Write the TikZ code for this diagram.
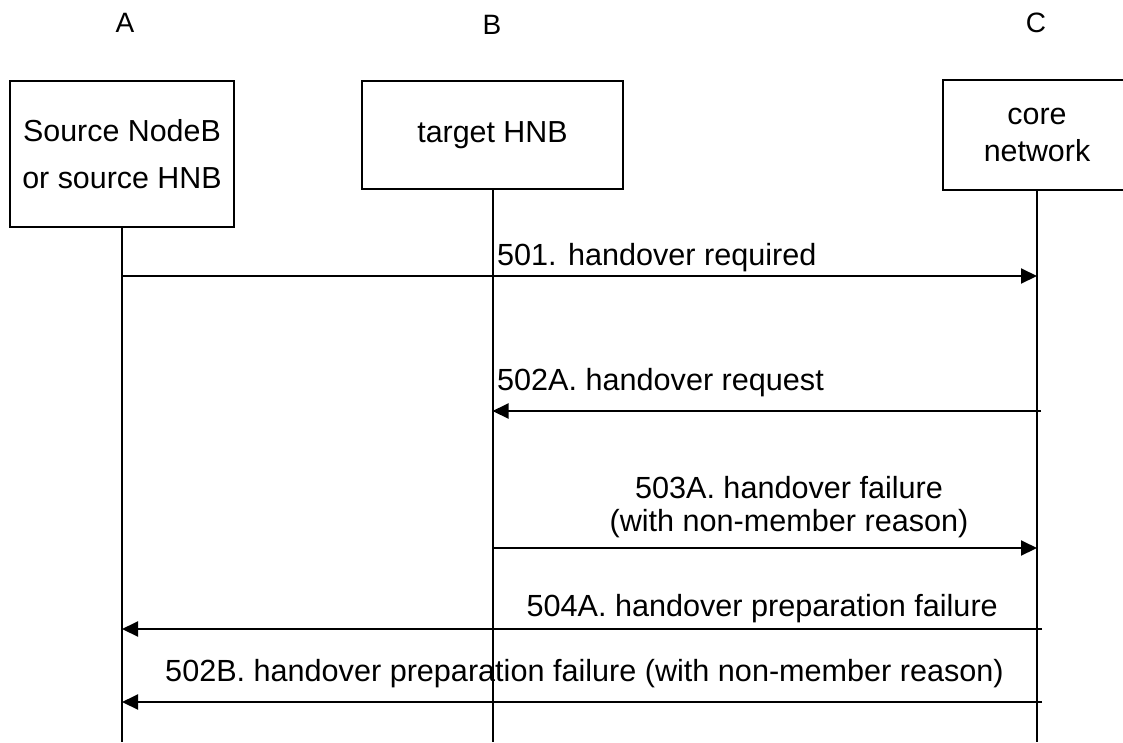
\documentclass[tikz,border=0pt]{standalone}
\usepackage{fontspec}
\setmainfont{Liberation Sans}
\usetikzlibrary{arrows.meta}
\begin{document}
\begin{tikzpicture}[x=1pt,y=-1pt,
  box/.style={draw,line width=2pt,inner sep=0pt,align=center,font=\fontsize{30.4}{47}\selectfont},
  life/.style={line width=2pt},
  msg/.style={line width=2pt,-{Triangle[length=16pt,width=15pt]}},
  lbl/.style={font=\fontsize{30.6}{33}\selectfont,inner sep=0pt},
  head/.style={font=\fontsize{28}{32}\selectfont,inner sep=0pt,anchor=base}]
\useasboundingbox (0,0) rectangle (1123,742);
% column heads
\node[head] (hA) at (125,32) {A};
\node[head] (hB) at (492,34) {B};
\node[head] (hC) at (1036,32) {C};
% boxes
\node[box,minimum width=224pt,minimum height=146pt] (boxA) at (122,154) {Source NodeB\\or source HNB};
\node[box,minimum width=261pt,minimum height=108pt] (boxB) at (492.5,135) {target HNB};
\node[box,minimum width=188pt,minimum height=110pt,font=\fontsize{30.4}{37}\selectfont] (boxC) at (1037,135) {core\\network};
% lifeline ends
\coordinate (bot) at (0,742);
\coordinate (endA) at (boxA.south |- bot);
\coordinate (endB) at (boxB.south |- bot);
\coordinate (endC) at (boxC.south |- bot);
\draw[life] (boxA.south) -- (endA);
\draw[life] (boxB.south) -- (endB);
\draw[life] (boxC.south) -- (endC);
% message levels
\coordinate (y1) at (0,276);
\coordinate (y2) at (0,411);
\coordinate (y3) at (0,548);
\coordinate (y4) at (0,629);
\coordinate (y5) at (0,702);
\coordinate (m1s) at (boxA.south |- y1);
\coordinate (m1e) at (boxC.south |- y1);
\coordinate (m2s) at ([xshift=4pt]boxC.south |- y2);
\coordinate (m2e) at (boxB.south |- y2);
\coordinate (m3s) at (boxB.south |- y3);
\coordinate (m3e) at (boxC.south |- y3);
\coordinate (m4s) at ([xshift=5pt]boxC.south |- y4);
\coordinate (m4e) at (boxA.south |- y4);
\coordinate (m5s) at ([xshift=5pt]boxC.south |- y5);
\coordinate (m5e) at (boxA.south |- y5);
\draw[msg] (m1s) -- (m1e);
\draw[msg] (m2s) -- (m2e);
\draw[msg] (m3s) -- (m3e);
\draw[msg] (m4s) -- (m4e);
\draw[msg] (m5s) -- (m5e);
% labels
\node[lbl,anchor=base west] (l1) at (497,265) {501. handover required};
\node[lbl,anchor=base west] (l2) at (497,390) {502A. handover request};
\node[lbl,align=center] (l3) at (789,507) {503A. handover failure\\(with non-member reason)};
\node[lbl,anchor=base east] (l4) at (998,616) {504A. handover preparation failure};
\node[lbl,anchor=base east] (l5) at (1004,681) {502B. handover preparation failure (with non-member reason)};
\end{tikzpicture}
\end{document}
